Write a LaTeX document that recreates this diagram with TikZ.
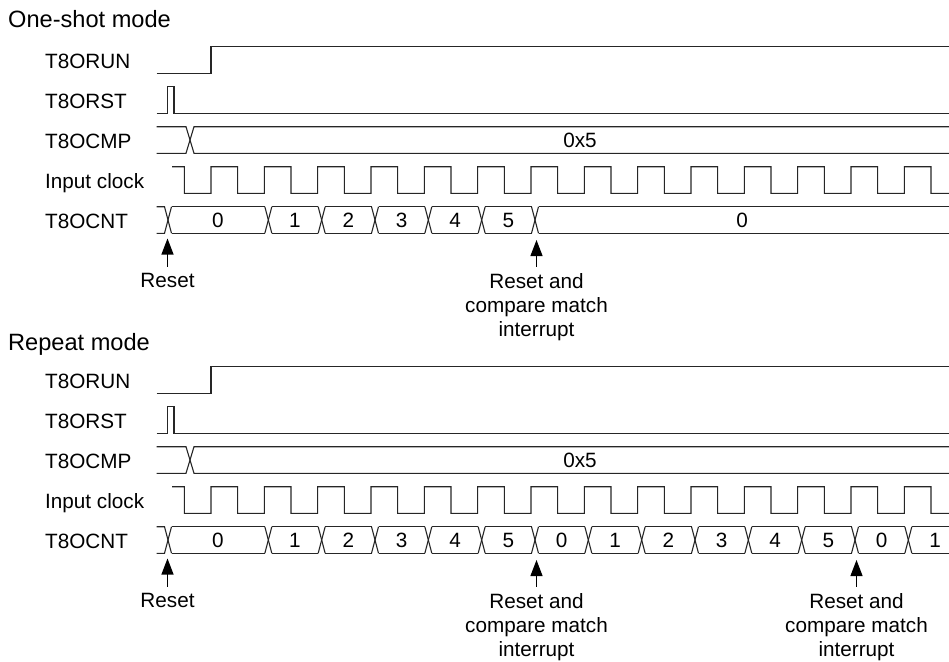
\documentclass[tikz,border=0pt]{standalone}
\usepackage{fontspec}
\setmainfont{Liberation Sans}
\usetikzlibrary{arrows.meta}
\tikzset{
  wave/.style={line width=1.1pt, color=black!85, line join=miter},
  lbl/.style={anchor=base west, inner sep=0pt, font=\fontsize{20.7}{24.5}\selectfont},
  ttl/.style={anchor=base west, inner sep=0pt, font=\fontsize{23.6}{27}\selectfont},
  val/.style={anchor=base, inner sep=0pt, font=\fontsize{20.7}{24.5}\selectfont},
  note/.style={anchor=north, inner sep=0pt, align=center, font=\fontsize{20.7}{24}\selectfont},
  evarrow/.style={line width=1.1pt, -{Triangle[width=12pt,length=16pt]}, shorten <=7pt},
}
\newcommand\commonrows[1]{%
  % #1 = suffix for node names
  \node[lbl] (run#1) at (45,68) {T8ORUN};
  \node[lbl] (rst#1) at (45,108) {T8ORST};
  \node[lbl] (cmp#1) at (45,148) {T8OCMP};
  \node[lbl] (clk#1) at (45,188) {Input clock};
  \node[lbl] (cnt#1) at (45,228) {T8OCNT};
  % T8ORUN
  \draw[wave] (156.7,73.3) -- (211,73.3) -- (211,46.7) -- (949,46.7);
  % T8ORST
  \draw[wave] (156.7,113.3) -- (167.3,113.3) -- (167.3,86.7) -- (174,86.7) -- (174,113.3) -- (949,113.3);
  % T8OCMP
  \draw[wave] (156.7,126.7) -- (186,126.7) -- (194,153.3) -- (949,153.3);
  \draw[wave] (156.7,153.3) -- (186,153.3) -- (194,126.7) -- (949,126.7);
  \node[val] (cmpv#1) at (580,147.5) {0x5};
  % Input clock
  \draw[wave] (172,166.7) -- (184.333,166.7)
    \foreach \k in {0,...,13}{
      -- ({184.333+53.333*\k},193.3) -- ({211+53.333*\k},193.3)
      -- ({211+53.333*\k},166.7) -- ({237.667+53.333*\k},166.7)}
    -- (931,193.3) -- (949,193.3);
  % counter start
  \draw[wave] (156.7,206.7) -- (164.5,206.7) -- (171.5,233.3);
  \draw[wave] (156.7,233.3) -- (164.5,233.3) -- (171.5,206.7);
}
% crossing of the counter bus at x=#1
\newcommand\buscross[1]{%
  \draw[wave] ({#1-3.5},206.7) -- ({#1+3.5},233.3);
  \draw[wave] ({#1-3.5},233.3) -- ({#1+3.5},206.7);
}
% bus segment from crossing #1 to crossing #2
\newcommand\busseg[2]{%
  \draw[wave] ({#1+3.5},206.7) -- ({#2-3.5},206.7);
  \draw[wave] ({#1+3.5},233.3) -- ({#2-3.5},233.3);
}
\begin{document}
\begin{tikzpicture}[x=1pt,y=-1pt]
\useasboundingbox (0,0) rectangle (949,661);

% ================= One-shot mode =================
\node[ttl] (titleA) at (8,28) {One-shot mode};
\commonrows{A}
\busseg{168}{268.3}
\node[val] (cA0) at (218,227.5) {0};
\foreach \k in {1,...,5}{
  \pgfmathsetmacro\cx{211+53.333*\k+4}
  \buscross{\cx}
  \pgfmathsetmacro\nx{\cx+53.333}
  \busseg{\cx}{\nx}
  \node[val] (cA\k) at ({\cx+26.667},227.5) {\k};
}
\buscross{535}
\draw[wave] (538.5,206.7) -- (949,206.7);
\draw[wave] (538.5,233.3) -- (949,233.3);
\node[val] (cAend) at (742,227.5) {0};

\coordinate (tipA1) at (167.5,238.5);
\coordinate (tipA2) at (536.5,240);
\node[note] (nA1) at (167.5,273.5) {Reset};
\node[note] (nA2) at (536.5,273.5) {Reset and\\compare match\\interrupt};
\draw[evarrow] (nA1.north) -- (tipA1);
\draw[evarrow] (nA2.north) -- (tipA2);

% ================= Repeat mode =================
\node[ttl] (titleB) at (8,350) {Repeat mode};
\begin{scope}[yshift=-320pt]
\commonrows{B}
\busseg{168}{268.3}
\node[val] (cB0) at (218,227.5) {0};
\foreach \k in {1,...,13}{
  \pgfmathsetmacro\cx{211+53.333*\k+4}
  \buscross{\cx}
  \pgfmathsetmacro\nx{\cx+53.333}
  \ifnum\k<13 \busseg{\cx}{\nx}\fi
  \pgfmathtruncatemacro\v{mod(\k,6)}
  \node[val] (cB\k) at ({\cx+26.667},227.5) {\v};
}
\draw[wave] (911.8,206.7) -- (949,206.7);
\draw[wave] (911.8,233.3) -- (949,233.3);

\coordinate (tipB1) at (167.5,238.5);
\coordinate (tipB2) at (536.5,240);
\coordinate (tipB3) at (856.5,240);
\node[note] (nB1) at (167.5,273.5) {Reset};
\node[note] (nB2) at (536.5,273.5) {Reset and\\compare match\\interrupt};
\node[note] (nB3) at (856.5,273.5) {Reset and\\compare match\\interrupt};
\draw[evarrow] (nB1.north) -- (tipB1);
\draw[evarrow] (nB2.north) -- (tipB2);
\draw[evarrow] (nB3.north) -- (tipB3);
\end{scope}
\end{tikzpicture}
\end{document}
